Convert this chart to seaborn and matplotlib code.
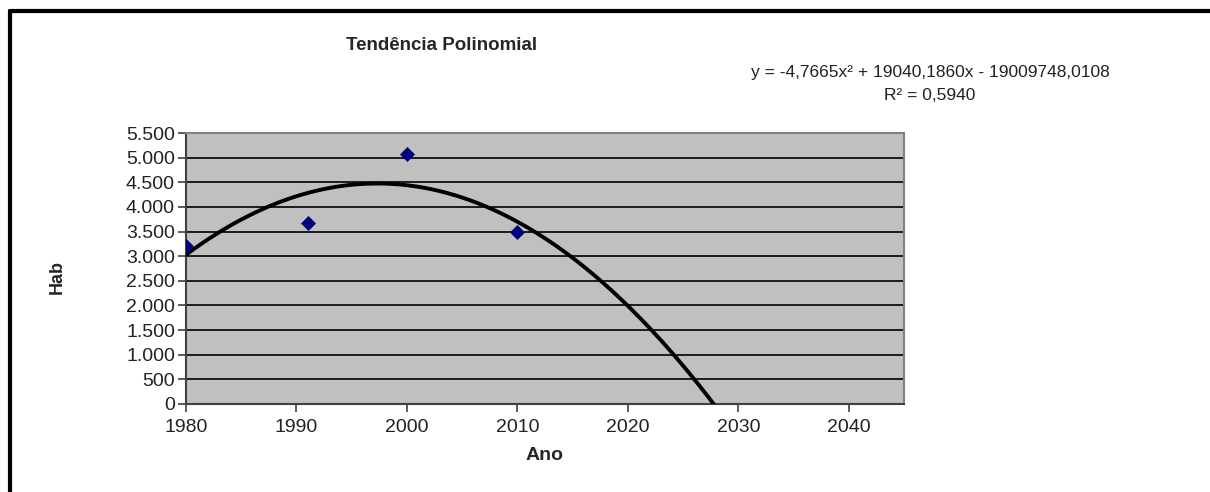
import numpy as np
import pandas as pd
import seaborn as sns
import matplotlib.pyplot as plt
from matplotlib.lines import Line2D

anos = [1980, 1991, 2000, 2010]
habitantes = [3200, 3680, 5070, 3500]
yticks = list(range(0, 5501, 500))
xticks = [1980, 1990, 2000, 2010, 2020, 2030, 2040]
equacao = "y = -4,7665x² + 19040,1860x - 19009748,0108"
r2_texto = "R² = 0,5940"

sns.set_theme(style="white")
plt.rcParams['font.family'] = ['Liberation Sans', 'DejaVu Sans']

df = pd.DataFrame({'Ano': anos, 'Hab': habitantes})

# linha de tendencia polinomial (grau 2), como no Excel
x0 = np.mean(anos)
coef = np.polyfit(np.array(anos) - x0, habitantes, 2)
xs = np.linspace(1980, 2032, 300)
trend = pd.DataFrame({'Ano': xs, 'Hab': np.polyval(coef, xs - x0)})

fig = plt.figure(figsize=(12.1, 4.92), dpi=100)
ax = fig.add_axes([186 / 1210, 1 - 404 / 492, (904 - 186) / 1210, (404 - 133) / 492])
ax.set_facecolor('#c0c0c0')

sns.lineplot(data=trend, x='Ano', y='Hab', color='black', linewidth=2.8, ax=ax, zorder=3)
sns.scatterplot(data=df, x='Ano', y='Hab', marker='D', s=50, color='#000080',
                edgecolor='#000080', ax=ax, zorder=4)

ax.set_xlim(1980, 2045)
ax.set_ylim(0, 5500)
ax.set_yticks(yticks)
ax.set_yticklabels([f"{v:,}".replace(',', '.') for v in yticks])
ax.set_xticks(xticks)
ax.yaxis.grid(True, color='black', linewidth=1.2)
ax.set_axisbelow(True)
for s in ax.spines.values():
    s.set_color('#808080')
    s.set_linewidth(1.5)
ax.spines['left'].set_color('#404040')
ax.spines['bottom'].set_color('#404040')
ax.tick_params(axis='both', direction='out', length=6, width=1.2, color='#404040',
               labelsize=14, labelcolor='#222222', bottom=True, left=True)
ax.tick_params(axis='x', pad=5)
ax.tick_params(axis='y', pad=2)

ax.set_xlabel('Ano', fontsize=14, fontweight='bold')
ax.set_ylabel('Hab', fontsize=13, fontweight='bold')
ax.xaxis.set_label_coords((545 - 186) / (904 - 186), -(455 - 404) / (404 - 133))
ax.yaxis.set_label_coords(-(186 - 57) / (904 - 186), 0.47)
ax.xaxis.label.set_va('center')
ax.yaxis.label.set_va('center')

fig.text(442 / 1210, 1 - 45 / 492, 'Tendência Polinomial', ha='center', va='center',
         fontsize=13.5, fontweight='bold')
fig.text(930 / 1210, 1 - 72 / 492, equacao, ha='center', va='center', fontsize=12.5,
         color='#222222')
fig.text(930 / 1210, 1 - 95 / 492, r2_texto, ha='center', va='center', fontsize=12.5,
         color='#222222')

# moldura preta do grafico
fig.add_artist(Line2D([10 / 1210, 1], [1 - 11 / 492, 1 - 11 / 492], color='black', linewidth=3,
                      transform=fig.transFigure))
fig.add_artist(Line2D([10 / 1210, 10 / 1210], [0, 1 - 11 / 492], color='black', linewidth=3,
                      transform=fig.transFigure))

fig.savefig('out.png', dpi=100)
